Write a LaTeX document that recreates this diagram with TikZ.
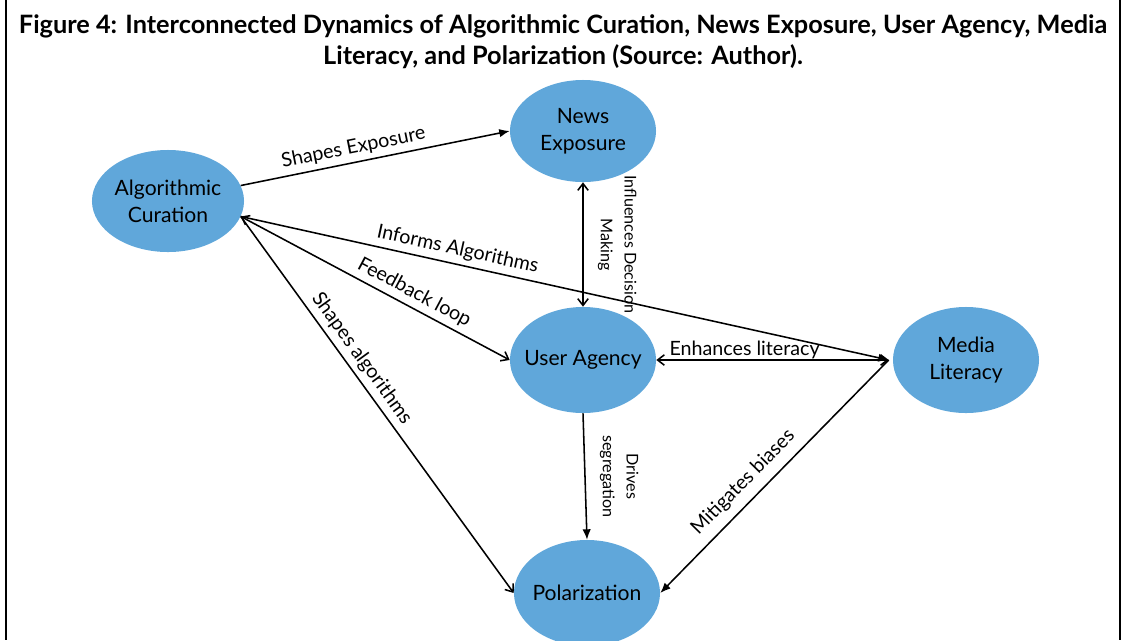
\documentclass[tikz,border=0pt]{standalone}
\usepackage{fontspec}
\setmainfont{Lato}
\usetikzlibrary{shapes.geometric,arrows.meta}
\definecolor{nodeblue}{RGB}{96,167,218}
\tikzset{
  concept/.style={ellipse, fill=nodeblue, minimum width=3.65cm, minimum height=2.65cm,
    inner sep=0pt, align=center, font=\fontsize{15}{19}\selectfont},
  oneway/.style={line width=1.1pt, -{Latex[length=2.6mm,width=2.1mm]}},
  openway/.style={line width=1.1pt, -{Straight Barb[length=1.7mm,width=2.6mm]}},
  twoway/.style={line width=1.1pt, {Straight Barb[length=1.7mm,width=2.6mm]}-{Straight Barb[length=1.7mm,width=2.6mm]}},
  lbl/.style={font=\fontsize{14}{16}\selectfont, sloped, above},
  sidelbl/.style={font=\fontsize{11.5}{17}\selectfont, rotate=-90, anchor=south, align=center,
    inner ysep=10pt},
}
\begin{document}
\begin{tikzpicture}[x=0.025cm, y=-0.025cm]
    \useasboundingbox (0,0) rectangle (1126,640);
    \clip (0,0) rectangle (1126,640);
    \draw[line width=0.9pt] (6,0) -- (6,640);
    \draw[line width=0.9pt] (1120,0) -- (1120,640);
    \node[align=center, font=\bfseries\fontsize{18}{22}\selectfont] (title) at (563,42)
        {Figure 4: Interconnected Dynamics of Algorithmic Curation, News Exposure, User Agency, Media\\
         Literacy, and Polarization (Source: Author).};
    \node[concept, minimum width=3.8cm, minimum height=2.55cm] (curation) at (168,201) {Algorithmic\\Curation};
    \node[concept, minimum height=2.55cm] (exposure) at (583,131) {News\\Exposure};
    \node[concept] (agency) at (583,360) {\makebox[2.2cm]{User Agency}};
    \node[concept] (literacy) at (966,360) {Media\\Literacy};
    \node[concept] (polar) at (587,593) {\makebox[2.2cm]{Polarization}};
    \coordinate (cport) at (curation.-12);
    \coordinate (lport) at ([xshift=-0.1cm]literacy.west);
    \draw[oneway] (curation.12) -- (exposure.west) node[lbl, pos=0.43] {Shapes Exposure};
    \draw[oneway] (cport) -- (lport) node[lbl, pos=0.33] {Informs Algorithms};
    \draw[twoway] (cport) -- (agency.west) node[lbl, pos=0.62] {Feedback loop};
    \draw[openway] (cport) -- (polar.west) node[lbl, pos=0.4] {Shapes algorithms};
    \draw[twoway] (exposure.south) -- (agency.north) node[sidelbl, midway] {Influences Decision\\Making};
    \draw[oneway] (agency.south) -- (polar.north) node[sidelbl, midway] {Drives\\segregation};
    \draw[twoway] (agency.east) -- (lport) node[lbl, pos=0.38, inner sep=0.5pt] {Enhances literacy};
    \draw[oneway] (lport) -- (polar.east) node[lbl, pos=0.58, inner sep=6pt] {Mitigates biases};
\end{tikzpicture}
\end{document}
